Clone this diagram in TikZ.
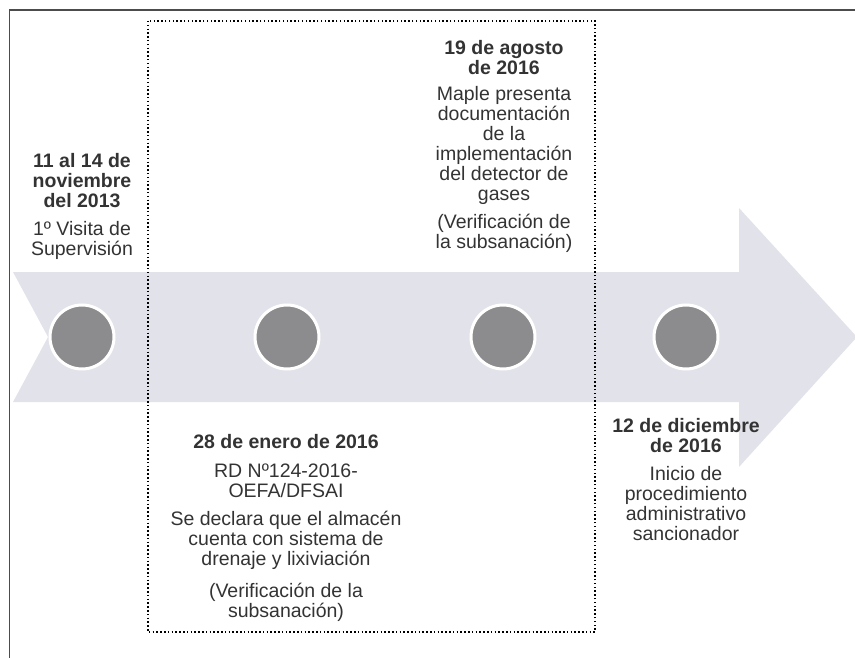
\documentclass[tikz,border=0pt]{standalone}
\usepackage{fontspec}
\setmainfont{Liberation Sans}
\definecolor{band}{HTML}{E2E2EA}
\definecolor{dotfill}{HTML}{8C8C8E}
\definecolor{txt}{HTML}{333333}
\begin{document}
\begin{tikzpicture}[x=1pt,y=-1pt,
  every node/.style={inner sep=0pt,text=txt,align=center,
    font=\fontsize{19.5}{20}\selectfont},
  hito/.style={circle,fill=dotfill,draw=white,line width=3pt,minimum size=64pt}]
\useasboundingbox (0,0) rectangle (855,658);
\draw[line width=1.2pt,black!70] (9.5,658) -- (9.5,10) -- (855,10);
% arrow band
\fill[band] (13,272) -- (739,272) -- (739,208) -- (857,337) -- (739,467)
  -- (739,402) -- (13,402) -- (48,337) -- cycle;
\foreach \x/\n in {82/c1,287/c2,503/c3,686/c4}
  \node[hito] (\n) at (\x,337) {};
\draw[line width=1.5pt,dash pattern=on 1.5pt off 2.3pt] (148,21) rectangle (595,632);
% texts (base = last line)
\node[anchor=base] (visita) at (82,255) {\textbf{11 al 14 de}\\\textbf{noviembre}\\
  \textbf{del 2013}\\[8pt]1º Visita de\\Supervisión};
\node[anchor=base] (detector) at (504,248) {\textbf{19 de agosto}\\\textbf{de 2016}\\[6pt]
  Maple presenta\\documentación\\de la\\implementación\\del detector de\\gases\\[8pt]
  (Verificación de\\la subsanación)};
\node[anchor=base] (resol) at (286,617) {\textbf{28 de enero de 2016}\\[9pt]
  RD Nº124-2016-\\OEFA/DFSAI\\[8pt]Se declara que el almacén\\cuenta con sistema de\\
  drenaje y lixiviación\\[12pt](Verificación de la\\subsanación)};
\node[anchor=base] (inicio) at (686,540) {\textbf{12 de diciembre}\\\textbf{de 2016}\\[8pt]
  Inicio de\\procedimiento\\administrativo\\sancionador};
\end{tikzpicture}
\end{document}
